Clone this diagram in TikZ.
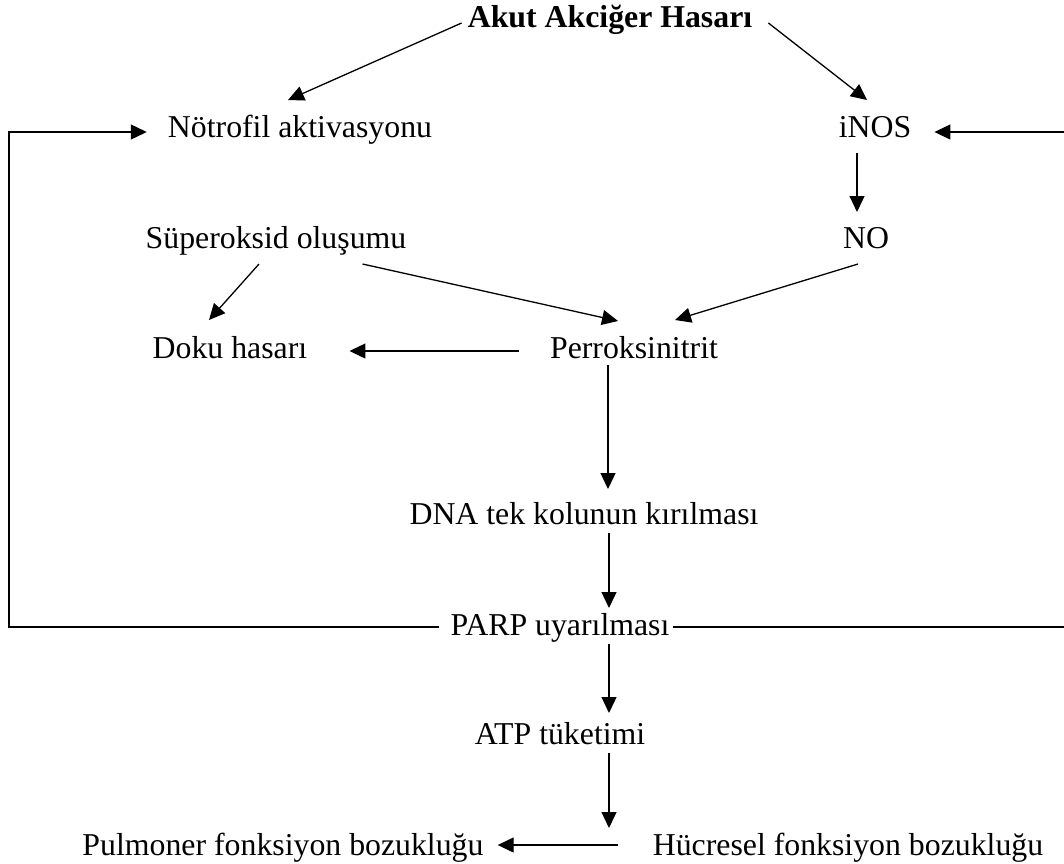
\documentclass[tikz,border=0pt]{standalone}
\usepackage{fontspec}
\setmainfont{Liberation Serif}
\usepackage{tikz}
\usetikzlibrary{arrows.meta,calc}

\tikzset{
  lbl/.style={inner sep=0pt, anchor=base, font=\fontsize{31.8}{38}\selectfont},
  arr/.style={line width=1.3pt, -{Triangle[length=16pt,width=15pt]}}
}

\begin{document}
\begin{tikzpicture}[x=1pt,y=-1pt]
        \useasboundingbox (0,0) rectangle (1064,863);

        \node[lbl] (akut) at (610,27) {\textbf{Akut Akciğer Hasarı}};
        \node[lbl] (notrofil) at (300,137) {Nötrofil aktivasyonu};
        \node[lbl] (inos) at (875,137) {iNOS};
        \node[lbl] (superoksid) at (276,248) {Süperoksid oluşumu};
        \node[lbl] (no) at (866,248) {NO};
        \node[lbl] (doku) at (230,358) {Doku hasarı};
        \node[lbl] (perok) at (634,358) {Perroksinitrit};
        \node[lbl] (dna) at (584,524) {DNA tek kolunun kırılması};
        \node[lbl] (parp) at (560,635) {PARP uyarılması};
        \node[lbl] (atp) at (560,744) {ATP tüketimi};
        \node[lbl] (hucresel) at (848,855) {Hücresel fonksiyon bozukluğu};
        \node[lbl] (pulmoner) at (283,855) {Pulmoner fonksiyon bozukluğu};

        \coordinate (loopL) at (9,132);
        \coordinate (loopR) at (1066,132);

        \draw[arr] ([shift={(-6,-4)}]akut.base west) -- ([shift={(-12,-37)}]notrofil.base);
        \draw[arr] ([shift={(16,-4)}]akut.base east) -- ([shift={(-8,-37)}]inos.base);

        \draw[arr] ([shift={(-11,-8)}]parp.base west) -| (loopL) -- ([shift={(-21,-5)}]notrofil.base west);
        \draw[arr] ([shift={(3,-8)}]parp.base east) -| (loopR) -- ([shift={(23,-5)}]inos.base east);

        \draw[arr] ([shift={(-18,16)}]inos.base) -- ([shift={(-9,-36)}]no.base);
        \draw[arr] ([shift={(-17,16)}]superoksid.base) -- ([shift={(-21,-38)}]doku.base);
        \draw[arr] ([shift={(-44,16)}]superoksid.base east) -- ([shift={(-16,-37)}]perok.base);
        \draw[arr] ([shift={(-8,16)}]no.base) -- ([shift={(41,-38)}]perok.base);
        \draw[arr] ([shift={(-31,-7)}]perok.base west) -- ([shift={(42,-7)}]doku.base east);

        \draw[arr] ([shift={(-26,7)}]perok.base) -- ([shift={(24,-35)}]dna.base);
        \draw[arr] ([shift={(25,9)}]dna.base) -- ([shift={(49,-27)}]parp.base);
        \draw[arr] ([shift={(49,9)}]parp.base) -- ([shift={(49,-31)}]atp.base);
        \draw[arr] ([shift={(49,9)}]atp.base) -- ($(atp.base |- hucresel.base)+(49,-27)$);
        \draw[arr] ([shift={(-35,-10)}]hucresel.base west) -- ([shift={(14,-10)}]pulmoner.base east);
\end{tikzpicture}
\end{document}
